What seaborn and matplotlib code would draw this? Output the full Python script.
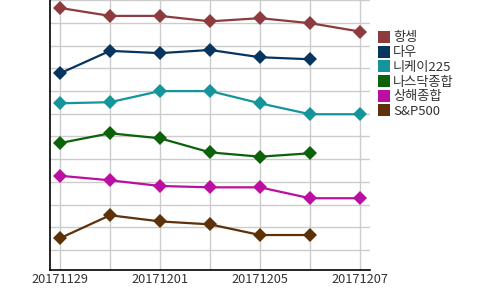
import numpy as np
import pandas as pd
import matplotlib
matplotlib.use("Agg")
import matplotlib.pyplot as plt
import seaborn as sns
from matplotlib.lines import Line2D

dates = ["20171129", "20171130", "20171201", "20171204", "20171205", "20171206", "20171207"]
tick_labels = ["20171129", "", "20171201", "", "20171205", "", "20171207"]
series_names = ["항셍", "다우", "니케이225", "나스닥종합", "상해종합", "S&P500"]
hangseng = [10.66, 10.31, 10.31, 10.07, 10.21, 9.99, 9.62]
dow = [7.78, 8.77, 8.67, 8.81, 8.49, 8.40, np.nan]
nikkei = [6.46, 6.51, 7.00, 7.00, 6.46, 5.98, 5.98]
nasdaq = [4.71, 5.14, 4.92, 4.30, 4.11, 4.26, np.nan]
shanghai = [3.27, 3.07, 2.82, 2.76, 2.76, 2.28, 2.28]
sp500 = [0.52, 1.53, 1.26, 1.13, 0.66, 0.66, np.nan]
colors = ["#8E3B3F", "#083460", "#14959B", "#0B620B", "#BA0FA0", "#5E3109"]

values = [hangseng, dow, nikkei, nasdaq, shanghai, sp500]
rows = []
for name, vals in zip(series_names, values):
    for d, v in zip(dates, vals):
        rows.append({"date": d, "value": v, "series": name})
df = pd.DataFrame(rows).dropna()

sns.set_style("white")
plt.rcParams["font.family"] = ["Noto Sans CJK KR", "DejaVu Sans"]

fig = plt.figure(figsize=(5, 2.9), dpi=100)
ax = fig.add_axes([0.1, 20 / 290, 0.64, 270 / 290])

sns.lineplot(data=df, x="date", y="value", hue="series", hue_order=series_names,
             palette=colors, marker="D", markersize=7, markeredgewidth=0,
             linewidth=1.6, sort=False, legend=False, ax=ax)

ax.set_xlim(-0.2, 6.2)
ax.set_ylim(-0.88, 11.01)
ax.set_xticks(range(len(dates)))
ax.set_xticklabels(tick_labels, fontsize=9.2, color="#333333")
ax.set_yticks(range(0, 12))
ax.set_yticklabels([])
ax.tick_params(axis="both", length=0, pad=2)
ax.grid(True, color="#cccccc", linewidth=1)
ax.set_axisbelow(True)
ax.set_xlabel("")
ax.set_ylabel("")
for s in ["top", "right"]:
    ax.spines[s].set_visible(False)
for s in ["left", "bottom"]:
    ax.spines[s].set_color("black")
    ax.spines[s].set_linewidth(1.2)

handles = [Line2D([0], [0], marker="s", color="none", markerfacecolor=c,
                  markeredgewidth=0, markersize=8) for c in colors]
fig.legend(handles, series_names, loc="upper left", bbox_to_anchor=(378.5 / 500, 1 - 31.5 / 290),
           frameon=False, fontsize=9.5, handlelength=0.9, handletextpad=0.2,
           labelspacing=0.13, borderaxespad=0, borderpad=0, labelcolor="#333333")

fig.savefig("out.png", dpi=100)
